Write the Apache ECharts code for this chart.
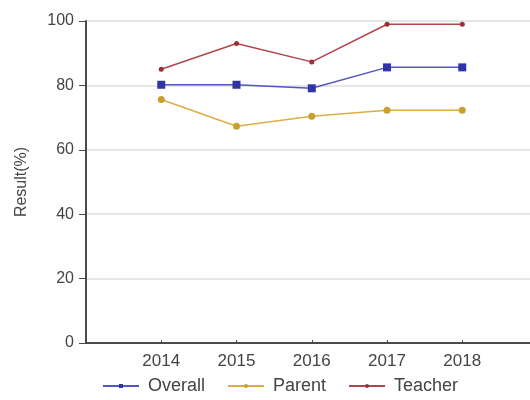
<!DOCTYPE html>
<html>
<head>
<meta charset="utf-8">
<script src="https://cdn.jsdelivr.net/npm/echarts@6/dist/echarts.min.js"></script>
<style>
  html, body { margin: 0; padding: 0; background: #fff; }
  #chart { width: 530px; height: 400px; }
</style>
</head>
<body>
<div id="chart"></div>
<script>
const years = [2014, 2015, 2016, 2017, 2018]
const overall = [80.2, 80.2, 79.1, 85.6, 85.6]
const parent = [75.6, 67.3, 70.4, 72.3, 72.3]
const teacher = [85, 93, 87.3, 99, 99]

const pairs = vals => years.map((y, i) => [y, vals[i]])

const chart = echarts.init(document.getElementById('chart'), null, { renderer: 'canvas' })
const font = 'Liberation Sans, Arial, sans-serif'

function line(name, vals, color, markColor, symbol, size) {
  return {
    name, type: 'line', data: pairs(vals),
    symbol, symbolSize: size,
    lineStyle: { color, width: 1.5 },
    itemStyle: { color: markColor },
  }
}

chart.setOption({
  animation: false,
  textStyle: { fontFamily: font },
  grid: { left: 86, right: 0, top: 21, bottom: 57, containLabel: false },
  legend: {
    left: 97, bottom: 0, itemWidth: 36, itemHeight: 5, itemGap: 22,
    textStyle: { color: '#444', fontSize: 18, fontFamily: font, padding: [0, 0, 0, 4] },
    data: ['Overall', 'Parent', 'Teacher'],
  },
  xAxis: {
    type: 'value', min: 2013, max: 2018.9, interval: 1,
    axisLine: { lineStyle: { color: '#4a4a4a', width: 2 } },
    axisTick: { inside: true, length: 3, lineStyle: { color: '#4a4a4a' } },
    axisLabel: {
      color: '#444', fontSize: 17, margin: 10,
      showMaxLabel: false,
      formatter: v => (v >= 2014 && v <= 2018 ? String(v) : ''),
    },
    splitLine: { show: false },
  },
  yAxis: {
    type: 'value', min: 0, max: 100, interval: 20,
    name: 'Result(%)', nameLocation: 'middle', nameGap: 56,
    nameTextStyle: { color: '#444', fontSize: 16, fontFamily: font },
    axisLine: { show: true, lineStyle: { color: '#4a4a4a', width: 2 } },
    axisTick: { show: true, length: 7, lineStyle: { color: '#4a4a4a' } },
    axisLabel: { color: '#444', fontSize: 16, margin: 12 },
    splitLine: { lineStyle: { color: '#e6e6e6', width: 2 } },
  },
  series: [
    line('Overall', overall, '#5357bd', '#3034a6', 'rect', 8),
    line('Parent', parent, '#dcae44', '#c9a030', 'circle', 7),
    line('Teacher', teacher, '#b0454b', '#9c3036', 'circle', 5),
  ],
})
</script>
</body>
</html>
